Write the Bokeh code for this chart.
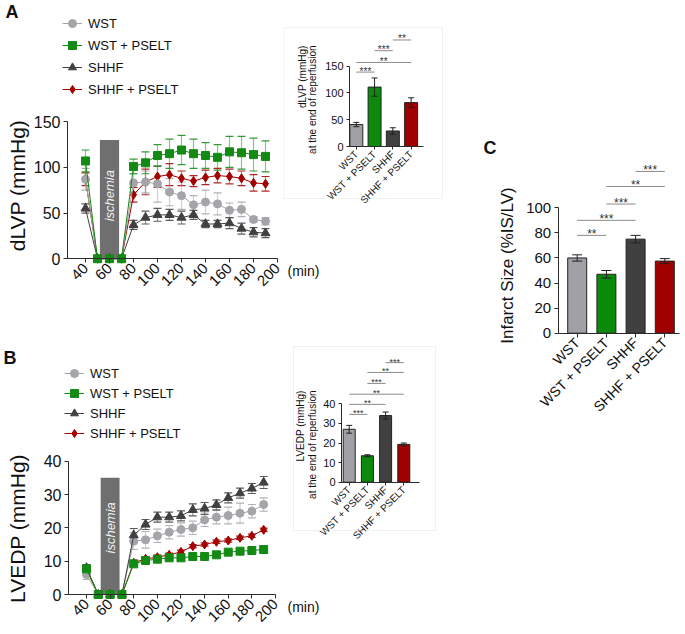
from math import pi
from bokeh.plotting import figure
from bokeh.layouts import row, column
from bokeh.models import (ColumnDataSource, Whisker, TeeHead, Legend, LegendItem,
                          Label, BoxAnnotation, FixedTicker, Range1d)
from bokeh.core.properties import value
from bokeh.embed import file_html
from bokeh.resources import INLINE

FONT = "Liberation Sans"
AXIS = "#2b2b2b"

# ---------------- data ----------------
GROUPS = ["WST", "WST + PSELT", "SHHF", "SHHF + PSELT"]
TIME = [40, 50, 60, 70, 80, 90, 100, 110, 120, 130, 140, 150, 160, 170, 180, 190]
TIME_TICKS = [40, 60, 80, 100, 120, 140, 160, 180, 200]
ISCHEMIA = (52, 68)

DLVP_WST = [87, 0, 0, 0, 83, 84, 82, 73, 69, 59, 62, 60, 53, 54, 43, 41]
DLVP_WST_SEM = [12, 0, 0, 0, 10, 12, 20, 15, 15, 10, 13, 12, 8, 8, 3, 4]
DLVP_WSTP = [107, 0, 0, 0, 101, 105, 113, 115, 119, 115, 113, 111, 117, 116, 114, 112]
DLVP_WSTP_SEM = [12, 0, 0, 0, 8, 12, 12, 16, 16, 16, 14, 14, 17, 18, 18, 17]
DLVP_SHHF = [55, 0, 0, 0, 37, 45, 48, 48, 45, 48, 38, 38, 39, 33, 29, 28]
DLVP_SHHF_SEM = [5, 0, 0, 0, 5, 7, 7, 6, 7, 5, 4, 4, 6, 6, 5, 5]
DLVP_SHHFP = [87, 0, 0, 0, 70, 84, 90, 92, 88, 85, 89, 91, 90, 88, 83, 82]
DLVP_SHHFP_SEM = [7, 0, 0, 0, 8, 14, 12, 12, 8, 6, 8, 8, 8, 8, 9, 8]

LVEDP_WST = [6, 0, 0, 0, 16, 16.4, 17.6, 18.7, 19.5, 20, 22.4, 23.2, 23.7, 24.4, 25, 27]
LVEDP_WST_SEM = [1.5, 0, 0, 0, 2.5, 2.5, 2, 2, 2, 2, 2, 2, 2.5, 3, 2, 2]
LVEDP_WSTP = [7.7, 0, 0, 0, 9.2, 10.2, 10.6, 11, 11, 11.4, 11.4, 11.9, 12.7, 13, 13.2, 13.5]
LVEDP_WSTP_SEM = [0.8, 0, 0, 0, 0.8, 0.6, 0.5, 0.5, 0.5, 0.5, 0.5, 0.5, 0.5, 0.5, 0.5, 0.5]
LVEDP_SHHF = [8, 0, 0, 0, 17.8, 21, 23.2, 23.2, 23.6, 25.4, 25.8, 26.9, 29, 30.4, 31.8, 33.6]
LVEDP_SHHF_SEM = [1, 0, 0, 0, 2, 1.5, 1.5, 1.5, 1.5, 1.8, 1.8, 1.5, 1.5, 1.5, 1.5, 1.8]
LVEDP_SHHFP = [7.5, 0, 0, 0, 9.5, 10.7, 11.2, 11.9, 12.8, 14.5, 15, 15.8, 16.2, 17, 17.6, 19.4]
LVEDP_SHHFP_SEM = [0.5, 0, 0, 0, 0.6, 0.6, 0.6, 0.5, 0.5, 0.5, 0.5, 0.5, 0.5, 0.5, 0.5, 0.5]

END_DLVP = [41, 111, 29, 82]
END_DLVP_SEM = [4, 17, 6, 9]
END_LVEDP = [27, 13.5, 34, 19.3]
END_LVEDP_SEM = [2, 0.5, 1.8, 0.7]
INFARCT = [60, 47, 75, 57.5]
INFARCT_SEM = [2.5, 3, 3, 2]

# significance brackets: (group i, group j, label, bracket height)
SIG_DLVP = [(0, 1, "***", 139), (0, 3, "**", 157), (1, 2, "***", 179), (2, 3, "**", 199)]
SIG_LVEDP = [(0, 1, "***", 34.6), (0, 2, "**", 39.7), (0, 3, "**", 44.9),
             (1, 2, "***", 50.4), (1, 3, "**", 56), (2, 3, "***", 61)]
SIG_INFARCT = [(0, 1, "**", 78), (0, 2, "***", 90), (1, 2, "***", 103),
               (1, 3, "**", 117), (2, 3, "***", 129)]

COLORS = ["#a4a4a9", "#138a13", "#404040", "#a30000"]
BAR_COLORS = ["#a0a0a6", "#0b8a0b", "#404040", "#a00000"]
MARKERS = ["circle", "square", "triangle", "diamond"]
SIZES = [8, 8, 9, 9]


def make_fig(width, height, xref_px, xref, xscale, yref_px, yref, yscale):
    """Figure whose frame fills the canvas; axes are placed with fixed_location."""
    x0 = xref - xref_px / xscale
    x1 = xref + (width - xref_px) / xscale
    y1 = yref + yref_px / yscale
    y0 = yref - (height - yref_px) / yscale
    p = figure(width=width, height=height, x_range=Range1d(x0, x1), y_range=Range1d(y0, y1),
               output_backend="svg", toolbar_location=None, min_border=0, title=None)
    p.grid.visible = False
    p.outline_line_color = None
    for ax in (p.xaxis[0], p.yaxis[0]):
        ax.axis_line_color = AXIS
        ax.major_tick_line_color = AXIS
        ax.minor_tick_line_color = None
        ax.major_tick_in = 0
        ax.major_tick_out = 4
        ax.major_label_text_font = FONT
        ax.major_label_text_color = "#111111"
        ax.major_label_standoff = 3

    def fx(px):
        return x0 + px / xscale

    def fy(py):
        return y1 - py / yscale
    return p, fx, fy


def label(p, fx, fy, px, py, text, size, angle=0.0, align="left", baseline="middle",
          style="normal", color="#111111"):
    p.add_layout(Label(x=fx(px), y=fy(py), text=text, angle=angle,
                       text_align=align, text_baseline=baseline, text_font=FONT,
                       text_font_size=f"{size}px", text_font_style=style, text_color=color))


def frame_box(p, fx, fy, l, r, t, b):
    p.add_layout(BoxAnnotation(left=fx(l), right=fx(r), top=fy(t), bottom=fy(b),
                               fill_alpha=0, line_color="#d2d2d2", line_width=1))


def main_panel(width, height, xref_px, xscale, yref_px, yscale, axis_px, yticks,
               means, sems, isch_top, isch_y, legend_loc, legend_spacing):
    p, fx, fy = make_fig(width, height, xref_px, TIME_TICKS[0], xscale, yref_px, 0, yscale)
    xstart = fx(axis_px)
    p.yaxis.fixed_location = xstart
    p.yaxis.ticker = FixedTicker(ticks=yticks)
    p.yaxis.bounds = (0, yticks[-1])
    p.yaxis.major_label_text_font_size = "16px"
    p.xaxis.fixed_location = 0
    p.xaxis.bounds = (xstart, TIME_TICKS[-1])
    p.xaxis.ticker = FixedTicker(ticks=TIME_TICKS)
    p.xaxis.major_label_orientation = pi / 4
    p.xaxis.major_label_text_font_size = "15px"
    p.quad(left=[ISCHEMIA[0]], right=[ISCHEMIA[1]], bottom=[0], top=[isch_top],
           fill_color="#6f6f6f", line_color=None)
    rend = {}
    for i in [3, 0, 2, 1]:
        c = COLORS[i]
        ys, es = means[i], sems[i]
        ln = p.line(TIME, ys, line_color=c, line_width=1)
        idx = [k for k, e in enumerate(es) if e > 0]
        src = ColumnDataSource(dict(x=[TIME[k] for k in idx],
                                    up=[ys[k] + es[k] for k in idx],
                                    lo=[ys[k] - es[k] for k in idx]))
        p.add_layout(Whisker(base="x", upper="up", lower="lo", source=src,
                             line_color=c, line_alpha=0.5, line_width=1.2,
                             upper_head=TeeHead(size=8, line_color=c, line_alpha=0.85, line_width=1.2),
                             lower_head=TeeHead(size=8, line_color=c, line_alpha=0.85, line_width=1.2)))
        sc = p.scatter(TIME, ys, marker=MARKERS[i], size=SIZES[i], fill_color=c, line_color=c)
        rend[i] = [ln, sc]
    p.add_layout(Label(x=sum(ISCHEMIA) / 2, y=isch_y, text="ischemia", angle=pi / 2,
                       text_align="center", text_baseline="middle", text_font=FONT,
                       text_font_size="13px", text_font_style="italic", text_color="#f2f2f2"))
    items = [LegendItem(label=GROUPS[i], renderers=rend[i]) for i in range(4)]
    leg = Legend(items=items, location=legend_loc, spacing=legend_spacing, padding=0, margin=0,
                 glyph_width=20, glyph_height=20, label_height=20, label_standoff=6,
                 label_text_font=FONT, label_text_font_size="13px", label_text_color="#111111",
                 border_line_color=None, background_fill_alpha=0)
    p.add_layout(leg)
    return p, fx, fy


def bar_panel(width, height, xref_px, xscale, yref_px, yscale, axis_px, x_end_px, yticks,
              vals, sems, sig, bar_w, cap, ytick_fs, xtick_fs, star_fs, tick_out=3):
    p, fx, fy = make_fig(width, height, xref_px, 0, xscale, yref_px, 0, yscale)
    p.yaxis.fixed_location = fx(axis_px)
    p.yaxis.ticker = FixedTicker(ticks=yticks)
    p.yaxis.bounds = (0, yticks[-1])
    p.yaxis.major_label_text_font_size = f"{ytick_fs}px"
    p.xaxis.fixed_location = 0
    p.xaxis.bounds = (fx(axis_px), fx(x_end_px))
    p.xaxis.ticker = FixedTicker(ticks=list(range(len(GROUPS))))
    p.xaxis.major_label_overrides = {i: g for i, g in enumerate(GROUPS)}
    p.xaxis.major_label_orientation = pi / 4
    p.xaxis.major_label_text_font_size = f"{xtick_fs}px"
    for ax in (p.xaxis[0], p.yaxis[0]):
        ax.major_tick_out = tick_out
    xs = list(range(len(GROUPS)))
    src = ColumnDataSource(dict(x=xs, top=vals, color=BAR_COLORS,
                                up=[v + e for v, e in zip(vals, sems)],
                                lo=[v - e for v, e in zip(vals, sems)]))
    p.vbar(x="x", top="top", width=bar_w, bottom=0, fill_color="color",
           line_color="#222222", line_width=1, source=src)
    p.add_layout(Whisker(base="x", upper="up", lower="lo", source=src, line_color="#222222",
                         line_width=1, level="overlay",
                         upper_head=TeeHead(size=cap, line_color="#222222", line_width=1),
                         lower_head=TeeHead(size=cap, line_color="#222222", line_width=1)))
    p.segment(x0=[s[0] for s in sig], x1=[s[1] for s in sig],
              y0=[s[3] for s in sig], y1=[s[3] for s in sig],
              line_color="#8a8a8a", line_width=1)
    p.text(x=[(s[0] + s[1]) / 2 for s in sig], y=[s[3] for s in sig], text=[s[2] for s in sig],
           text_align="center", text_baseline="alphabetic", y_offset=-1,
           text_font=value(FONT), text_font_size=f"{star_fs}px", text_color="#333333")
    return p, fx, fy


# ---------------- Panel A (page x 0..283, y 0..336) ----------------
pA, ax_, ay_ = main_panel(283, 336, 85, 1.2, 258.2, 0.9133, 67, [0, 50, 100, 150],
                          [DLVP_WST, DLVP_WSTP, DLVP_SHHF, DLVP_SHHFP],
                          [DLVP_WST_SEM, DLVP_WSTP_SEM, DLVP_SHHF_SEM, DLVP_SHHFP_SEM],
                          130, 69, (62, 237), 2)
label(pA, ax_, ay_, 5, 1, "A", 18, baseline="top", style="bold")
label(pA, ax_, ay_, 17, 185, "dLVP (mmHg)", 21, angle=pi / 2, align="center")

# ---------------- Panel B (page x 0..283, y 336..632) ----------------
pB, bx_, by_ = main_panel(283, 296, 86, 1.181, 258, 3.333, 68, [0, 10, 20, 30, 40],
                          [LVEDP_WST, LVEDP_WSTP, LVEDP_SHHF, LVEDP_SHHFP],
                          [LVEDP_WST_SEM, LVEDP_WSTP_SEM, LVEDP_SHHF_SEM, LVEDP_SHHFP_SEM],
                          35, 20, (64, 189), 0)
label(pB, bx_, by_, 3, 11, "B", 18, baseline="top", style="bold")
label(pB, bx_, by_, 17, 192, "LVEDP (mmHg)", 21, angle=pi / 2, align="center")

# ---------------- Inset A (page x 283..445, y 0..336) ----------------
pAi, aix, aiy = bar_panel(162, 336, 72.8, 18.27, 146, 0.5353, 66, 140, [0, 50, 100, 150],
                          END_DLVP, END_DLVP_SEM, SIG_DLVP, 0.71, 6, 11, 10, 10)
frame_box(pAi, aix, aiy, 0.5, 159, 27, 198)
label(pAi, aix, aiy, 18.7, 45, "dLVP (mmHg)", 10, angle=pi / 2, align="right")
label(pAi, aix, aiy, 28.7, 45, "at the end of reperfusion", 10, angle=pi / 2, align="right")
label(pAi, aix, aiy, 4, 270, "(min)", 14)

# ---------------- Inset B (page x 283..445, y 336..632) ----------------
pBi, bix, biy = bar_panel(162, 296, 65.7, 18.2, 145.7, 1.96, 58, 136, [0, 10, 20, 30, 40],
                          END_LVEDP, END_LVEDP_SEM, SIG_LVEDP, 0.66, 6, 11, 10, 9)
frame_box(pBi, bix, biy, 10, 152, 10, 194)
label(pBi, bix, biy, 17, 54, "LVEDP (mmHg)", 10, angle=pi / 2, align="right")
label(pBi, bix, biy, 28.7, 54, "at the end of reperfusion", 10, angle=pi / 2, align="right")
label(pBi, bix, biy, 4, 270, "(min)", 14)

# ---------------- Panel C (page x 445..684, y 0..632) ----------------
pC, cx_, cy_ = bar_panel(239, 632, 131.7, 29.2, 332.7, 1.254, 112.7, 234,
                         [0, 20, 40, 60, 80, 100], INFARCT, INFARCT_SEM, SIG_INFARCT,
                         0.65, 10, 15, 14, 12, tick_out=4)
label(pC, cx_, cy_, 38, 137, "C", 18, baseline="top", style="bold")
label(pC, cx_, cy_, 62, 265, "Infarct Size (%IS/LV)", 17, angle=pi / 2, align="center")

layout = row(column(pA, pB), column(pAi, pBi), pC)
open("out.html", "w").write(file_html(layout, INLINE))
